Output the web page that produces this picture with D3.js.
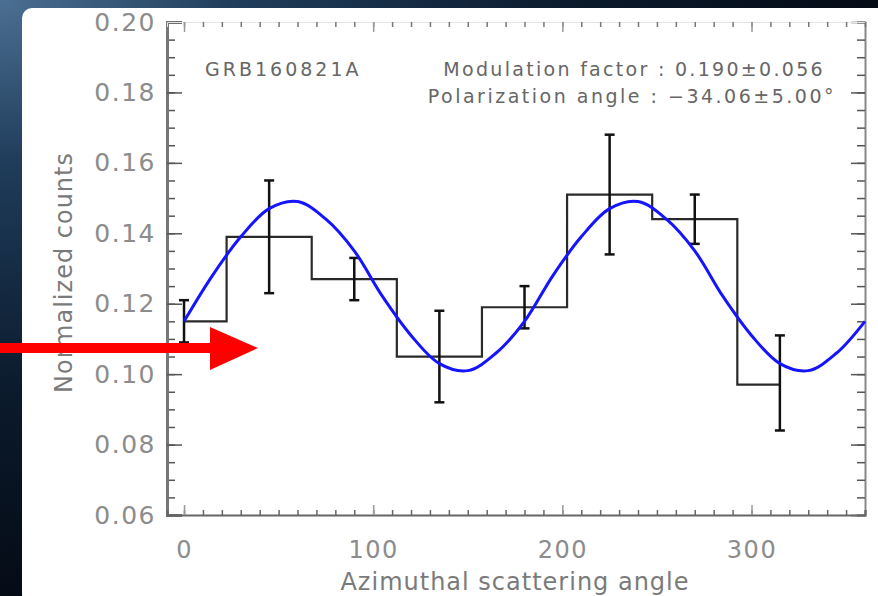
<!DOCTYPE html>
<html>
<head>
<meta charset="utf-8">
<script src="https://cdn.jsdelivr.net/npm/d3@7"></script>
<style>
  body { margin: 0; background: #0a1424; }
  svg { display: block; }
  text { font-family: "DejaVu Sans", sans-serif; }
</style>
</head>
<body>
<div id="vis"></div>
<script>
// binned polarisation data
const binCenters = [0, 45, 90, 135, 180, 225, 270, 315];
const counts = [0.115, 0.139, 0.127, 0.105, 0.119, 0.151, 0.144, 0.097];
const errLow = [0.109, 0.123, 0.121, 0.092, 0.113, 0.134, 0.137, 0.084];
const errHigh = [0.121, 0.155, 0.133, 0.118, 0.125, 0.168, 0.151, 0.111];

// blue modulation curve
const fitAngles = [0, 15, 30, 45, 60, 75, 90, 105, 120, 135, 150, 165, 180,
    195, 210, 225, 240, 255, 270, 285, 300, 315, 330, 345, 360];
const fitValues = [0.115, 0.128, 0.139, 0.147, 0.149, 0.144, 0.135, 0.122, 0.111, 0.103, 0.101, 0.106, 0.115,
    0.128, 0.139, 0.147, 0.149, 0.144, 0.135, 0.122, 0.111, 0.103, 0.101, 0.106, 0.115];

const yTicks = [0.06, 0.08, 0.10, 0.12, 0.14, 0.16, 0.18, 0.20];
const xTicks = [0, 100, 200, 300];

const WIDTH = 878;
const HEIGHT = 596;

const svg = d3.select("#vis")
    .append("svg")
    .attr("width", WIDTH)
    .attr("height", HEIGHT);

// dark background + white panel
const defs = svg.append("defs");
const grad = defs.append("radialGradient")
    .attr("id", "bg")
    .attr("cx", "0%").attr("cy", "0%").attr("r", "110%");
grad.append("stop").attr("offset", "0%").attr("stop-color", "#4b6f92");
grad.append("stop").attr("offset", "25%").attr("stop-color", "#1f3c5a");
grad.append("stop").attr("offset", "60%").attr("stop-color", "#0b1a2c");
grad.append("stop").attr("offset", "100%").attr("stop-color", "#03070f");

svg.append("rect")
    .attr("width", WIDTH).attr("height", HEIGHT)
    .attr("fill", "url(#bg)");

svg.append("rect")
    .attr("x", 22).attr("y", 8)
    .attr("width", WIDTH).attr("height", HEIGHT)
    .attr("rx", 10)
    .attr("fill", "#ffffff");

const X_SCALE = d3.scaleLinear().domain([-9, 360]).range([167, 865]);
const Y_SCALE = d3.scaleLinear().domain([0.06, 0.20]).range([515, 22]);

const X0 = X_SCALE.range()[0], X1 = X_SCALE.range()[1];
const Y0 = Y_SCALE.range()[0], Y1 = Y_SCALE.range()[1];

const minorY = d3.range(0.06, 0.2001, 0.005);
const minorX = d3.range(0, 361, 10);

// left axis
svg.append("g")
    .attr("transform", "translate(" + X0 + ",0)")
    .call(d3.axisLeft(Y_SCALE).tickValues(minorY).tickSize(-8).tickFormat(""))
    .call(g => g.select(".domain").remove())
    .selectAll("line").attr("stroke", "#555").attr("stroke-width", 1.5);

svg.append("g")
    .attr("transform", "translate(" + X0 + ",0)")
    .call(d3.axisLeft(Y_SCALE).tickValues(yTicks).tickSize(-15).tickPadding(11).tickFormat(d3.format(".2f")))
    .call(g => g.select(".domain").attr("stroke", "#777").attr("stroke-width", 3))
    .call(g => g.selectAll("line").attr("stroke", "#555").attr("stroke-width", 1.5))
    .call(g => g.selectAll("text")
        .attr("font-size", 25)
        .attr("letter-spacing", 1.5)
        .attr("fill", "#8c8c8c"));

// right axis
svg.append("g")
    .attr("transform", "translate(" + X1 + ",0)")
    .call(d3.axisRight(Y_SCALE).tickValues(minorY).tickSize(-8).tickFormat(""))
    .call(g => g.select(".domain").attr("stroke", "#888").attr("stroke-width", 2))
    .selectAll("line").attr("stroke", "#555").attr("stroke-width", 1.5);

svg.append("g")
    .attr("transform", "translate(" + X1 + ",0)")
    .call(d3.axisRight(Y_SCALE).tickValues(yTicks).tickSize(-14).tickFormat(""))
    .call(g => g.select(".domain").remove())
    .selectAll("line").attr("stroke", "#555").attr("stroke-width", 1.5);

// bottom axis
svg.append("g")
    .attr("transform", "translate(0," + Y0 + ")")
    .call(d3.axisBottom(X_SCALE).tickValues(minorX).tickSize(-5).tickFormat(""))
    .call(g => g.select(".domain").attr("stroke", "#666").attr("stroke-width", 2))
    .selectAll("line").attr("stroke", "#666").attr("stroke-width", 1.5);

svg.append("g")
    .attr("transform", "translate(0," + Y0 + ")")
    .call(d3.axisBottom(X_SCALE).tickValues(xTicks).tickSize(-10).tickPadding(26).tickFormat(d3.format("d")))
    .call(g => g.select(".domain").remove())
    .call(g => g.selectAll("line").attr("stroke", "#999").attr("stroke-width", 1.5))
    .call(g => g.selectAll("text")
        .attr("font-size", 24)
        .attr("letter-spacing", 1.5)
        .attr("fill", "#8c8c8c"));

// top axis
svg.append("g")
    .attr("transform", "translate(0," + Y1 + ")")
    .call(d3.axisTop(X_SCALE).tickValues(minorX).tickSize(-5).tickFormat(""))
    .call(g => g.select(".domain").attr("stroke", "#e6e6e6").attr("stroke-width", 1))
    .selectAll("line").attr("stroke", "#777").attr("stroke-width", 1.5);

svg.append("g")
    .attr("transform", "translate(0," + Y1 + ")")
    .call(d3.axisTop(X_SCALE).tickValues(xTicks).tickSize(-10).tickFormat(""))
    .call(g => g.select(".domain").remove())
    .selectAll("line").attr("stroke", "#999").attr("stroke-width", 1.5);

// axis titles
svg.append("text")
    .attr("transform", "translate(64," + ((Y0 + Y1) / 2 + 4) + ") rotate(-90)")
    .attr("text-anchor", "middle")
    .attr("dominant-baseline", "central")
    .attr("font-size", 24)
    .attr("letter-spacing", 1)
    .attr("fill", "#7a7a7a")
    .text("Normalized counts");

svg.append("text")
    .attr("x", 515)
    .attr("y", 590)
    .attr("text-anchor", "middle")
    .attr("font-size", 24)
    .attr("letter-spacing", 1)
    .attr("fill", "#7a7a7a")
    .text("Azimuthal scattering angle");

// annotations
svg.append("text")
    .attr("x", 205).attr("y", 76)
    .attr("font-size", 19)
    .attr("letter-spacing", 3)
    .attr("fill", "#666")
    .text("GRB160821A");

svg.append("text")
    .attr("x", 825).attr("y", 76)
    .attr("text-anchor", "end")
    .attr("font-size", 19)
    .attr("letter-spacing", 2.3)
    .attr("fill", "#666")
    .text("Modulation factor : 0.190\u00b10.056");

svg.append("text")
    .attr("x", 836).attr("y", 103)
    .attr("text-anchor", "end")
    .attr("font-size", 19)
    .attr("letter-spacing", 2.5)
    .attr("fill", "#666")
    .text("Polarization angle : \u221234.06\u00b15.00\u00b0");

// histogram
const data = binCenters.map((c, i) => ({ x: c, y: counts[i], lo: errLow[i], hi: errHigh[i] }));

const stepLine = d3.line()
    .x(d => X_SCALE(d.x))
    .y(d => Y_SCALE(d.y))
    .curve(d3.curveStep);

svg.append("path")
    .datum(data)
    .attr("d", stepLine)
    .attr("fill", "none")
    .attr("stroke", "#2a2a2a")
    .attr("stroke-width", 2.2);

// error bars
const bars = svg.selectAll(".err")
    .data(data)
    .enter()
    .append("g")
    .attr("class", "err")
    .attr("stroke", "#111")
    .attr("stroke-width", 2.5);

bars.append("line")
    .attr("x1", d => X_SCALE(d.x)).attr("x2", d => X_SCALE(d.x))
    .attr("y1", d => Y_SCALE(d.lo)).attr("y2", d => Y_SCALE(d.hi));

bars.append("line")
    .attr("x1", d => X_SCALE(d.x) - 5).attr("x2", d => X_SCALE(d.x) + 5)
    .attr("y1", d => Y_SCALE(d.lo)).attr("y2", d => Y_SCALE(d.lo));

bars.append("line")
    .attr("x1", d => X_SCALE(d.x) - 5).attr("x2", d => X_SCALE(d.x) + 5)
    .attr("y1", d => Y_SCALE(d.hi)).attr("y2", d => Y_SCALE(d.hi));

// fitted modulation curve
const fitLine = d3.line()
    .x((d, i) => X_SCALE(fitAngles[i]))
    .y(d => Y_SCALE(d))
    .curve(d3.curveCatmullRom);

svg.append("path")
    .datum(fitValues)
    .attr("d", fitLine)
    .attr("fill", "none")
    .attr("stroke", "#1414ff")
    .attr("stroke-width", 3);

// red arrow
svg.append("rect")
    .attr("x", 0).attr("y", 343)
    .attr("width", 216).attr("height", 10)
    .attr("fill", "#ff0000");

svg.append("path")
    .attr("d", "M210,327 L258,348 L210,370 Z")
    .attr("fill", "#ff0000");
</script>
</body>
</html>
